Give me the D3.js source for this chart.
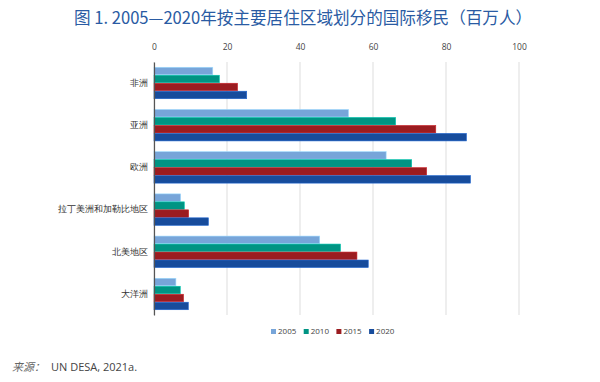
<!DOCTYPE html>
<html><head><meta charset="utf-8">
<script src="https://cdn.jsdelivr.net/npm/d3@7"></script>
<style>body{margin:0;background:#fff;}svg{display:block;font-family:"Noto Sans CJK SC","Open Sans",sans-serif;}</style>
</head><body><svg id="c" width="600" height="382"></svg>
<script>
const categories = ["非洲","亚洲","欧洲","拉丁美洲和加勒比地区","北美地区","大洋洲"];
const years = ["2005","2010","2015","2020"];
const v2005 = [16.1, 53.3, 63.6, 7.3, 45.4, 6.0];
const v2010 = [17.9, 66.2, 70.6, 8.3, 51.1, 7.2];
const v2015 = [22.9, 77.2, 74.7, 9.5, 55.6, 8.1];
const v2020 = [25.4, 85.6, 86.7, 14.9, 58.7, 9.4];
const xTicks = [0,20,40,60,80,100];
const colors = ["#77a5d9","#009483","#9b1c20","#174c9c"];
const series = [v2005, v2010, v2015, v2020];

const svg = d3.select("#c");
svg.append("text").attr("x",303).attr("y",24).attr("text-anchor","middle")
  .attr("fill","#2a5ba3").attr("font-size",16.6).text("图 1. 2005—2020年按主要居住区域划分的国际移民（百万人）");

const x = d3.scaleLinear().domain([0,100]).range([154,519]);
const y = d3.scaleBand().domain(categories).range([62,315]).paddingInner(0.255).paddingOuter(0.125);
const ys = d3.scaleBand().domain(years).range([0,y.bandwidth()]).paddingInner(0.06);

const g = svg.append("g");
g.selectAll("line.grid").data(xTicks).join("line").attr("class","grid")
  .attr("x1",d=>x(d)).attr("x2",d=>x(d)).attr("y1",62).attr("y2",315)
  .attr("stroke","#e3e3e3").attr("stroke-width",1.2);

const xa = svg.append("g").attr("transform","translate(0,62)")
  .call(d3.axisTop(x).tickValues(xTicks).tickSize(0).tickPadding(12));
xa.select(".domain").remove();
xa.selectAll("text").attr("font-size",8.5).attr("fill","#444").attr("font-family","Open Sans, sans-serif");

categories.forEach((c,i)=>{
  const gg = g.append("g").attr("transform",`translate(0,${y(c)})`);
  gg.selectAll("rect").data(years).join("rect")
    .attr("x",x(0)).attr("y",d=>ys(d))
    .attr("width",(d,j)=>x(series[j][i])-x(0))
    .attr("height",ys.bandwidth())
    .attr("fill",(d,j)=>colors[j])
    .attr("stroke",(d,j)=>d3.color(colors[j]).brighter(0.8))
    .attr("stroke-width",0.6);
});

const ya = svg.append("g").attr("transform",`translate(${x(0)},0)`)
  .call(d3.axisLeft(y).tickSize(0).tickPadding(6));
ya.select(".domain").attr("stroke","#555").attr("stroke-width",1.2);
ya.selectAll("text").attr("font-size",8.8).attr("fill","#333");

// legend
const lg = svg.append("g").attr("transform","translate(271,334)");
const lw = 32.7;
years.forEach((yr,j)=>{
  const it = lg.append("g").attr("transform",`translate(${j*lw},0)`);
  it.append("rect").attr("x",0).attr("y",-5).attr("width",5).attr("height",5).attr("fill",colors[j]);
  it.append("text").attr("x",7).attr("y",0).attr("font-size",8).attr("fill","#444")
    .attr("font-family","Open Sans, sans-serif").text(yr);
});

// source
const src = svg.append("text").attr("x",12).attr("y",371).attr("font-size",11).attr("fill","#444");
src.append("tspan").attr("font-style","italic").attr("fill","#666").text("来源：");
src.append("tspan").attr("dx",6).attr("font-family","Open Sans, sans-serif").text("UN DESA, 2021a.");
</script></body></html>
